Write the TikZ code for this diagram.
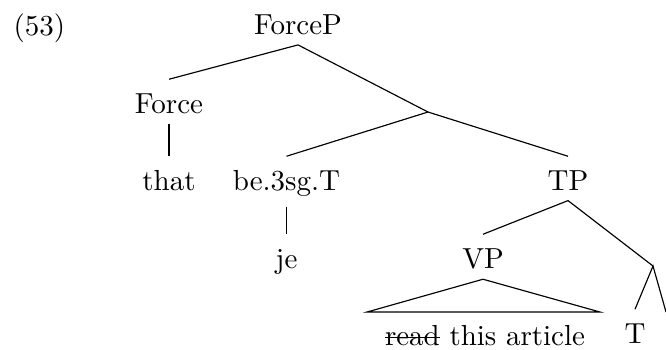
\documentclass[tikz,border=0pt]{standalone}
\newcommand\mystrike[1]{\setbox0\hbox{#1}\rlap{\rule[0.55ex]{\wd0}{0.45pt}}\box0}
\tikzset{
  lbl/.style={anchor=base, inner xsep=0pt, inner ysep=3.45pt, text height=8pt},
  branch/.style={line width=0.4pt}
}
\begin{document}
\begin{tikzpicture}[x=0.345pt, y=-0.345pt]
  \useasboundingbox (0,0) rectangle (666,349);
  \node[anchor=base west, inner sep=0pt] (ex) at (13,35) {(53)};
  \node[lbl] (forcep) at (298,34) {ForceP};
  \node[lbl] (force) at (169,113) {Force};
  \node[lbl] (that) at (169,190) {that};
  \coordinate (bar) at (428,112);
  \node[lbl] (be) at (286.5,190) {be.3sg.T};
  \node[lbl] (je) at (286.5,268) {je};
  \node[lbl] (tp) at (568,190) {TP};
  \node[lbl] (vp) at (483,268) {VP};
  \node[lbl] (vpt) at (485,345) {\mystrike{read}\ this article};
  \coordinate (tl) at (367,312);
  \coordinate (tr) at (600,312);
  \coordinate (tbar) at (653,266);
  \node[lbl] (t) at (635,343) {T};
  \coordinate (cut) at (666,312);

  \draw[branch] (force.north) -- (forcep.south) -- (bar);
  \draw[branch] (force.south) -- (that.north);
  \draw[branch] (be.north) -- (bar) -- (tp.north);
  \draw[branch] (be.south) -- (je.north);
  \draw[branch] (vp.north) -- (tp.south) -- (tbar);
  \draw[branch] (vp.south) -- (tl) -- (tr) -- cycle;
  \draw[branch] (t.north) -- (tbar) -- (cut);
\end{tikzpicture}
\end{document}
